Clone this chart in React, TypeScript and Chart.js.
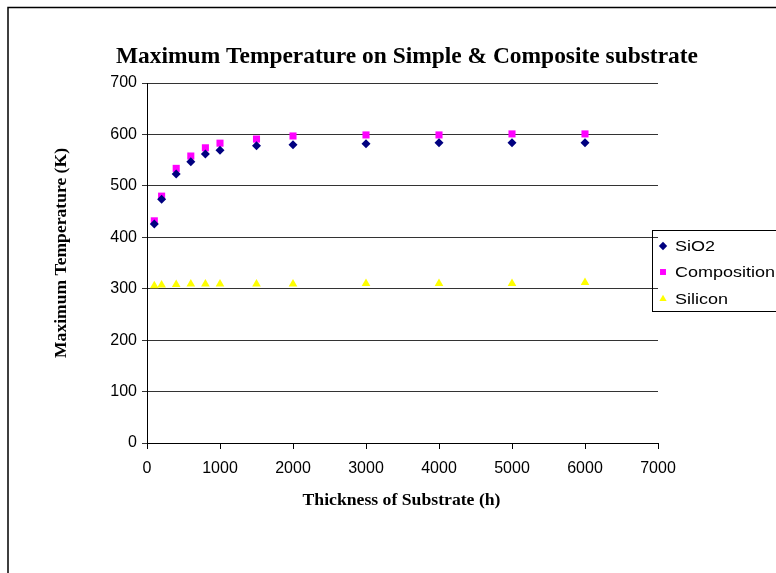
import React, { useEffect, useRef } from "react";
import { Chart, registerables } from "chart.js";

Chart.register(...registerables);

// Substrate thickness (h) and maximum temperature (K) per substrate type
const thickness = [100, 200, 400, 600, 800, 1000, 1500, 2000, 3000, 4000, 5000, 6000];
const sio2 = [426, 474, 523, 547, 562, 569, 578, 580, 582, 584, 584, 584];
const composition = [432, 480, 534, 558, 574, 583, 591, 597, 599, 599, 601, 601];
const silicon = [306, 307, 308, 309, 309, 309, 309, 309, 310, 310, 310, 312];

const seriesNames = ["SiO2", "Composition", "Silicon"];
const seriesColors = ["#000080", "#FF00FF", "#FFFF00"];
const seriesStyles = ["rectRot", "rect", "triangle"];
const seriesRadius = [4.5, 5, 5];

const chartTitle = "Maximum Temperature on Simple & Composite substrate";
const xTitle = "Thickness of Substrate (h)";
const yTitle = "Maximum Temperature (K)";

const serif = '"Liberation Serif", "Times New Roman", serif';
const sans = '"Liberation Sans", Arial, sans-serif';

// Draw text centred on (cx, baseline y), squeezed or stretched to a given width
function fitText(
  ctx: CanvasRenderingContext2D,
  text: string,
  cx: number,
  y: number,
  font: string,
  width: number,
  angle = 0
) {
  ctx.save();
  ctx.font = font;
  const w = ctx.measureText(text).width;
  ctx.translate(cx, y);
  ctx.rotate(angle);
  ctx.scale(width / w, 1);
  ctx.textAlign = "center";
  ctx.textBaseline = "alphabetic";
  ctx.fillStyle = "#000";
  ctx.fillText(text, 0, 0);
  ctx.restore();
}

function drawMarker(ctx: CanvasRenderingContext2D, style: string, x: number, y: number, r: number, color: string) {
  ctx.save();
  ctx.fillStyle = color;
  ctx.beginPath();
  if (style === "rectRot") {
    ctx.moveTo(x, y - r);
    ctx.lineTo(x + r, y);
    ctx.lineTo(x, y + r);
    ctx.lineTo(x - r, y);
  } else if (style === "rect") {
    const s = r * Math.SQRT1_2;
    ctx.rect(x - s, y - s, 2 * s, 2 * s);
  } else {
    ctx.moveTo(x, y - r);
    ctx.lineTo(x + r * 0.866, y + r * 0.5);
    ctx.lineTo(x - r * 0.866, y + r * 0.5);
  }
  ctx.closePath();
  ctx.fill();
  ctx.restore();
}

const decor = {
  id: "decor",
  beforeDraw(chart: Chart) {
    const ctx = chart.ctx;
    ctx.save();
    ctx.fillStyle = "#fff";
    ctx.fillRect(0, 0, chart.width, chart.height);
    ctx.strokeStyle = "#000";
    ctx.lineWidth = 1.5;
    ctx.strokeRect(8, 7.5, 900, 700);
    ctx.restore();
  },
  afterDraw(chart: Chart) {
    const ctx = chart.ctx;
    const area = chart.chartArea;
    fitText(ctx, chartTitle, 407, 63, `bold 24px ${serif}`, 582);
    fitText(ctx, xTitle, (area.left + area.right) / 2 - 1, 505, `bold 16px ${serif}`, 198);
    fitText(ctx, yTitle, 66, 253, `bold 16px ${serif}`, 210, -Math.PI / 2);

    // legend box
    ctx.save();
    ctx.strokeStyle = "#000";
    ctx.lineWidth = 1;
    ctx.strokeRect(652.5, 230.5, 200, 81);
    ctx.restore();
    const rows = [246, 272, 299];
    chart.data.datasets.forEach((d: any, i: number) => {
      drawMarker(ctx, seriesStyles[i], 663, rows[i], 4.2, seriesColors[i]);
      ctx.save();
      ctx.font = `15px ${sans}`;
      ctx.fillStyle = "#000";
      ctx.textBaseline = "middle";
      ctx.translate(675, rows[i] + 1);
      ctx.scale(1.2, 1);
      ctx.fillText(d.label, 0, 0);
      ctx.restore();
    });
  },
};

export default function App() {
  const ref = useRef<HTMLCanvasElement | null>(null);

  useEffect(() => {
    if (!ref.current) return;
    const series = [sio2, composition, silicon];
    const chart = new Chart(ref.current, {
      type: "scatter",
      data: {
        datasets: series.map((vals, i) => ({
          label: seriesNames[i],
          data: thickness.map((x, j) => ({ x, y: vals[j] })),
          showLine: false,
          pointStyle: seriesStyles[i] as any,
          pointRadius: seriesRadius[i],
          pointBorderWidth: 0,
          backgroundColor: seriesColors[i],
          borderColor: seriesColors[i],
        })),
      },
      options: {
        responsive: false,
        animation: false,
        devicePixelRatio: 1,
        layout: { padding: { left: 0, top: 83, right: 118, bottom: 90 } },
        plugins: {
          legend: { display: false },
          title: { display: false },
          tooltip: { enabled: false },
        },
        scales: {
          x: {
            type: "linear",
            min: 0,
            max: 7000,
            afterFit: (s: any) => {
              s.height = 40;
            },
            ticks: {
              stepSize: 1000,
              autoSkip: false,
              maxRotation: 0,
              padding: 10,
              color: "#000",
              font: { family: sans, size: 16 },
              callback: (v: any) => String(v),
            },
            grid: { drawOnChartArea: false, drawTicks: true, tickLength: 6, color: "#000" },
            border: { color: "#000", width: 1 },
          },
          y: {
            min: 0,
            max: 700,
            afterFit: (s: any) => {
              s.width = 147;
            },
            ticks: {
              stepSize: 100,
              padding: 5,
              color: "#000",
              font: { family: sans, size: 16 },
              callback: (v: any) => String(v),
            },
            grid: { color: "#333", tickLength: 5 },
            border: { color: "#000", width: 1 },
          },
        },
      },
      plugins: [decor],
    });
    return () => chart.destroy();
  }, []);

  return (
    <div style={{ position: "absolute", left: 0, top: 0, width: 776, height: 573, overflow: "hidden" }}>
      <canvas ref={ref} width={776} height={573} />
    </div>
  );
}
